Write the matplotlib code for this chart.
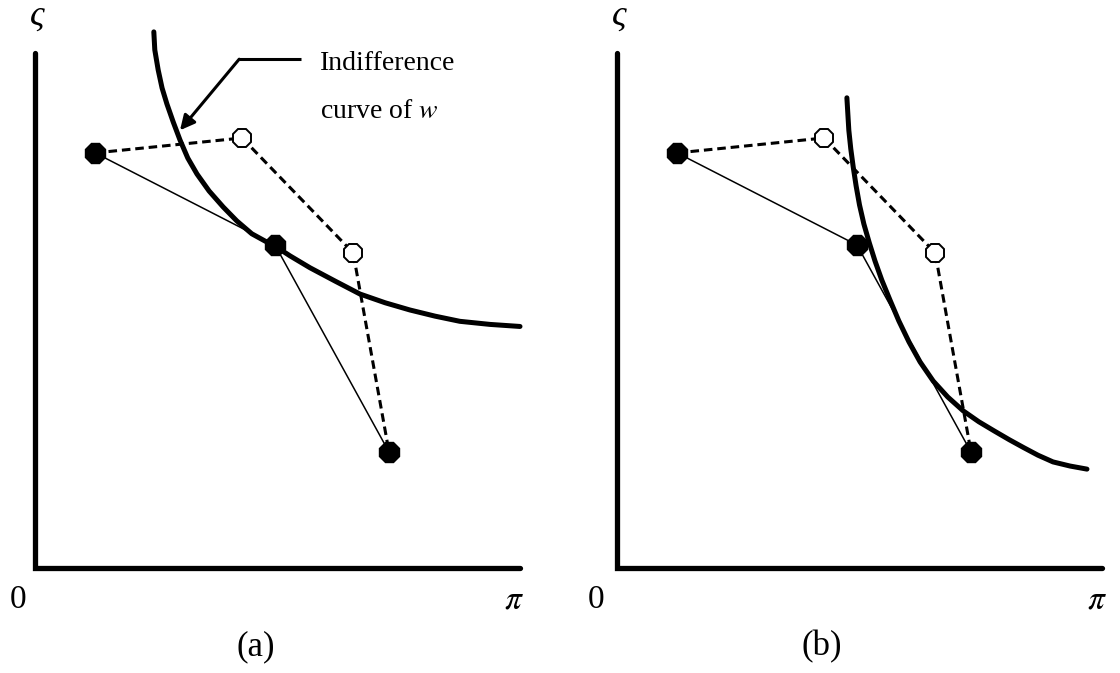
import numpy as np
import matplotlib
matplotlib.use("Agg")
import matplotlib.pyplot as plt

plt.rcParams['font.family'] = ['Liberation Serif', 'DejaVu Serif']
plt.rcParams['mathtext.fontset'] = 'stix'

# --- data (axis units: both axes run 0..100) ---
# solid path through the filled points (same in both panels)
filled_x = [12.4, 49.5, 73.0]
filled_y = [80.6, 62.7, 22.5]
# dashed path: filled -> open -> open -> filled
open_x = [42.7, 65.6]
open_y = [83.5, 61.2]

# indifference curve, panel (a)
curve_a_x = [24.5, 24.7, 25.4, 26.2, 27.2, 28.5, 29.9, 31.5, 33.4, 35.9, 38.8, 41.6, 44.7, 47.4,
             49.5, 52.6, 56.7, 61.9, 67.0, 72.2, 77.3, 82.5, 87.6, 93.8, 100.0]
curve_a_y = [104.1, 100.6, 96.7, 93.2, 90.1, 86.6, 83.1, 79.6, 76.5, 73.2, 70.1, 67.4, 64.9, 63.5,
             62.5, 60.6, 58.3, 55.7, 53.2, 51.5, 50.1, 48.9, 47.9, 47.3, 46.9]
# indifference curve, panel (b)
curve_b_x = [47.4, 47.8, 48.2, 48.7, 49.3, 50.0, 50.9, 52.0, 53.2, 54.6, 56.3, 58.1, 60.2, 62.5,
             65.2, 68.2, 71.4, 74.6, 77.8, 80.9, 83.8, 86.8, 89.9, 93.4, 96.9]
curve_b_y = [91.3, 85.0, 81.4, 77.9, 74.2, 70.5, 66.8, 63.2, 59.6, 55.9, 52.0, 48.0, 43.9, 40.0,
             36.3, 33.2, 30.5, 28.4, 26.6, 24.9, 23.4, 21.9, 20.6, 19.8, 19.2]

panel_labels = ['(a)', '(b)']

W, H = 1120, 673
fig = plt.figure(figsize=(W / 100, H / 100), dpi=100)

# each panel: axes box in pixels, origin pixel, px per unit
px_x, px_y = 4.85, 5.15
panels = [
    dict(box=(0, 560), ox=35, cx=curve_a_x, cy=curve_a_y, lab_x=45.6, zero_x=-3.5, pi_x=98.8),
    dict(box=(560, 1120), ox=617, cx=curve_b_x, cy=curve_b_y, lab_x=42.3, zero_x=-4.3, pi_x=99.0),
]
oy = 568

for i, p in enumerate(panels):
    x0, x1 = p['box']
    ax = fig.add_axes([x0 / W, 0, (x1 - x0) / W, 1])
    ax.set_xlim((x0 - p['ox']) / px_x, (x1 - p['ox']) / px_x)
    ax.set_ylim((oy - H) / px_y, oy / px_y)
    ax.axis('off')

    # axes lines
    ax.plot([0, 0, 100], [100, 0, 0], color='black', lw=3.8,
            solid_capstyle='round', solid_joinstyle='miter', zorder=2)

    # dashed path
    dx = [filled_x[0], open_x[0], open_x[1], filled_x[2]]
    dy = [filled_y[0], open_y[0], open_y[1], filled_y[2]]
    ax.plot(dx, dy, color='black', lw=2.2, linestyle=(0, (2.8, 1.6)), zorder=3)
    # thin solid path
    ax.plot(filled_x, filled_y, color='black', lw=1.1, zorder=3)

    # indifference curve
    ax.plot(p['cx'], p['cy'], color='black', lw=3.6,
            solid_capstyle='round', solid_joinstyle='round', zorder=4)

    # markers
    ax.plot(open_x, open_y, linestyle='none', marker='8', ms=14,
            mfc='white', mec='black', mew=1.4, zorder=5)
    ax.plot(filled_x, filled_y, linestyle='none', marker='8', ms=16,
            mfc='black', mec='black', zorder=5)

    # labels
    ax.text(0.4, 107.2, 'ς', fontsize=26, ha='center', va='center', style='italic')
    ax.text(p['zero_x'], -6.2, '0', fontsize=24, ha='center', va='center')
    ax.text(p['pi_x'], -6.2, r'$\pi$', fontsize=24, ha='center', va='center')
    ax.text(p['lab_x'], -15.3, panel_labels[i], fontsize=25, ha='center', va='center')

    if i == 0:
        # callout for the indifference curve
        ax.plot([54.8, 42.1], [98.8, 98.8], color='black', lw=2.2,
                solid_capstyle='butt', zorder=3)
        ax.annotate('', xy=(29.9, 85.0), xytext=(42.1, 98.8),
                    arrowprops=dict(arrowstyle='-|>', color='black', lw=2.2,
                                    mutation_scale=22, shrinkA=0, shrinkB=0),
                    zorder=3)
        ax.text(58.8, 98.0, 'Indifference', fontsize=20, ha='left', va='center')
        ax.text(58.8, 88.6, 'curve of $w$', fontsize=20, ha='left', va='center')

fig.savefig('out.png', dpi=100)
